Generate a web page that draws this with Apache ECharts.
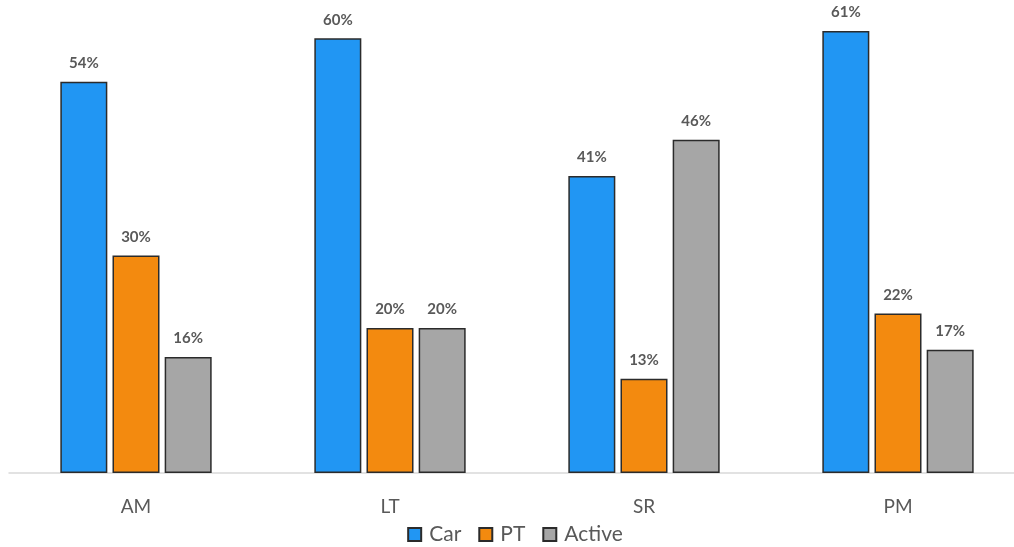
<!DOCTYPE html>
<html>
<head>
<meta charset="utf-8">
<script src="https://cdn.jsdelivr.net/npm/echarts@6/dist/echarts.min.js"></script>
<style>
  html, body { margin: 0; padding: 0; background: #ffffff; overflow: hidden; }
  #chart { width: 1030px; height: 547px; }
</style>
</head>
<body>
<div id="chart"></div>
<script>
// Mode share by time period (%)
const periods = ['AM', 'LT', 'SR', 'PM'];
const carShare = [54, 60, 41, 61];
const ptShare = [30, 20, 13, 22];
const activeShare = [16, 20, 46, 17];

const FONT = 'Lato, "Open Sans", sans-serif';
const TEXT_GREY = '#595959';

function barSeries(name, data, color) {
  return {
    name: name,
    type: 'bar',
    data: data,
    barWidth: 47,
    barGap: '11%',
    itemStyle: { color: color, borderColor: '#2b2b2b', borderWidth: 1.5 },
    label: {
      show: true,
      position: 'top',
      distance: 11,
      formatter: p => p.value + '%',
      fontFamily: FONT,
      fontWeight: 'bold',
      fontSize: 15,
      color: TEXT_GREY
    }
  };
}

const chart = echarts.init(document.getElementById('chart'), null, { renderer: 'canvas' });
chart.setOption({
  backgroundColor: '#ffffff',
  animation: false,
  grid: { left: 9, top: 2, right: 5, height: 471, containLabel: false },
  legend: {
    bottom: -3,
    left: 'center',
    itemWidth: 13,
    itemHeight: 13,
    itemGap: 17,
    icon: 'rect',
    textStyle: { fontFamily: FONT, fontSize: 21, color: TEXT_GREY, padding: [0, 0, 0, 3] },
    data: ['Car', 'PT', 'Active']
  },
  xAxis: {
    type: 'category',
    data: periods,
    axisLine: { lineStyle: { color: '#d9d9d9', width: 1.5 } },
    axisTick: { show: false },
    axisLabel: { fontFamily: FONT, fontSize: 19, color: TEXT_GREY, margin: 24 }
  },
  yAxis: {
    type: 'value',
    min: 0,
    max: 65,
    show: false,
    splitLine: { show: false }
  },
  series: [
    barSeries('Car', carShare, '#2196f3'),
    barSeries('PT', ptShare, '#f38a0f'),
    barSeries('Active', activeShare, '#a6a6a6')
  ]
});
</script>
</body>
</html>
